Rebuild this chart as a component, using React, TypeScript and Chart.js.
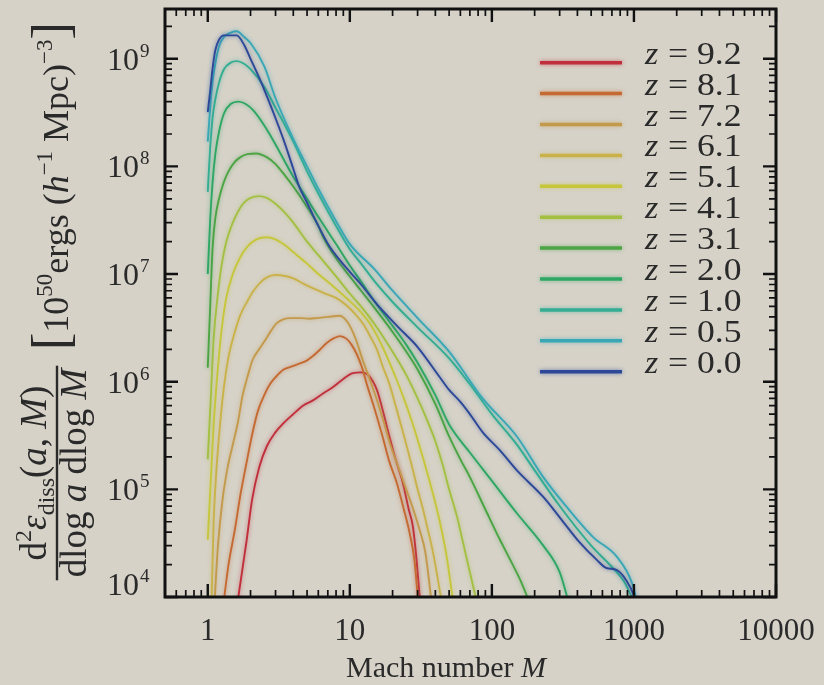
import React, { useEffect, useRef } from "react";
import { Chart, registerables } from "chart.js";

Chart.register(...registerables);

// Redshift of each curve, legend order (top to bottom)
const redshifts = ["9.2", "8.1", "7.2", "6.1", "5.1", "4.1", "3.1", "2.0", "1.0", "0.5", "0.0"];
const curveColors = [
  "#c0303c", "#c46a32", "#c39a4c", "#c9b24a", "#c6c63c", "#a4c043",
  "#4ca444", "#2fa764", "#34ad92", "#3aa7b5", "#2c4897",
];

// Shock Mach number samples and dissipated energy per log a per log M
const machZ92 = [1.6, 1.88, 2.05, 2.3, 2.6, 3.0, 3.4, 4.0, 4.7, 5.5, 6.4, 7.5, 8.9, 10.5, 12.0, 13.4, 15.5, 17, 19, 21, 23.6, 26, 27.8, 29.5, 31.5];
const dissZ92 = [8e3, 3.4e4, 8e4, 1.6e5, 2.5e5, 3.4e5, 4.1e5, 5.0e5, 6.0e5, 6.7e5, 7.7e5, 8.8e5, 1.05e6, 1.2e6, 1.22e6, 1.16e6, 8.4e5, 5.5e5, 3.1e5, 1.9e5, 1.15e5, 6.5e4, 4.5e4, 2.2e4, 8e3];

const machZ81 = [1.28, 1.4, 1.55, 1.7, 1.88, 2.05, 2.25, 2.5, 2.73, 3.0, 3.4, 4.0, 4.4, 5.0, 5.5, 6.2, 6.9, 7.8, 8.5, 9.5, 10.3, 11.2, 12.2, 13.2, 15, 17, 19, 21.4, 24, 26.4, 28.5, 30.5];
const dissZ81 = [8e3, 2e4, 4.2e4, 9e4, 1.8e5, 3.2e5, 5.3e5, 7.5e5, 9.4e5, 1.1e6, 1.29e6, 1.4e6, 1.47e6, 1.58e6, 1.73e6, 2.0e6, 2.3e6, 2.55e6, 2.65e6, 2.5e6, 2.2e6, 1.8e6, 1.35e6, 9.4e5, 5.5e5, 3.1e5, 1.8e5, 1.15e5, 6.5e4, 3.9e4, 2.2e4, 8e3];

const machZ72 = [1.11, 1.18, 1.27, 1.38, 1.5, 1.63, 1.76, 1.9, 2.07, 2.3, 2.52, 2.8, 3.06, 3.4, 3.78, 4.5, 5.2, 5.85, 7.0, 8.5, 9.3, 10, 11, 12.3, 14, 15.5, 17, 19.1, 22, 25, 28, 31, 34, 38];
const dissZ72 = [8e3, 3e4, 8e4, 1.6e5, 2.6e5, 4.2e5, 7.5e5, 1.1e6, 1.6e6, 2.0e6, 2.4e6, 3.0e6, 3.5e6, 3.8e6, 3.9e6, 3.9e6, 3.85e6, 3.9e6, 4.0e6, 4.1e6, 3.8e6, 3.3e6, 2.5e6, 1.6e6, 1.0e6, 6.8e5, 4.6e5, 2.7e5, 1.6e5, 9.9e4, 6.5e4, 4.2e4, 2.6e4, 8e3];

const machZ61 = [1.06, 1.1, 1.15, 1.22, 1.3, 1.4, 1.55, 1.7, 1.9, 2.1, 2.4, 2.7, 3.0, 3.5, 4.0, 5.0, 6.5, 8.0, 9.5, 11, 12.5, 14, 15.5, 17, 19, 21, 23, 25, 27.5, 30, 32.5, 35, 38.5, 41.5, 45];
const dissZ61 = [8e3, 5e4, 1.5e5, 4e5, 9e5, 1.7e6, 2.9e6, 4.2e6, 5.6e6, 7.0e6, 8.6e6, 9.5e6, 9.8e6, 9.6e6, 9.1e6, 7.8e6, 6.7e6, 6.0e6, 5.1e6, 4.2e6, 3.4e6, 2.6e6, 2.0e6, 1.4e6, 9.5e5, 6e5, 3.9e5, 2.6e5, 1.6e5, 1.0e5, 6.8e4, 4.5e4, 2.6e4, 1.5e4, 8e3];

const machZ51 = [1.0, 1.05, 1.1, 1.17, 1.25, 1.35, 1.5, 1.7, 1.9, 2.2, 2.6, 3.0, 3.5, 4.0, 5.0, 6.0, 7.0, 8.5, 10, 12, 14, 17, 21, 24.5, 27.8, 31, 34.7, 39, 43, 48, 54];
const dissZ51 = [3.4e4, 1.2e5, 4e5, 1.2e6, 3e6, 6e6, 1.0e7, 1.45e7, 1.8e7, 2.1e7, 2.2e7, 2.1e7, 1.85e7, 1.6e7, 1.25e7, 1.0e7, 8.5e6, 6.8e6, 5.6e6, 4.4e6, 3.4e6, 2.1e6, 1.1e6, 6.5e5, 4.0e5, 2.5e5, 1.5e5, 8.5e4, 5e4, 2.4e4, 8e3];

const machZ41 = [1.0, 1.05, 1.1, 1.17, 1.25, 1.35, 1.5, 1.65, 1.8, 2.0, 2.3, 2.6, 3.0, 3.5, 4.0, 5.0, 6.0, 8.0, 10, 12, 15, 20, 25, 30, 35, 40, 45, 50, 57, 62, 70, 80];
const dissZ41 = [1.9e5, 7e5, 2.5e6, 6e6, 1.2e7, 2e7, 3e7, 3.9e7, 4.6e7, 5.1e7, 5.3e7, 5.1e7, 4.5e7, 3.7e7, 3.0e7, 2.0e7, 1.5e7, 9.5e6, 6.6e6, 5.0e6, 3.4e6, 1.9e6, 1.15e6, 7e5, 4.4e5, 2.8e5, 1.7e5, 1.0e5, 5.5e4, 3.4e4, 1.7e4, 8e3];

const machZ31 = [1.0, 1.04, 1.08, 1.13, 1.2, 1.3, 1.4, 1.55, 1.7, 1.9, 2.2, 2.6, 3.0, 3.5, 4.0, 5.0, 6.0, 6.5, 8.0, 10, 12, 15, 20, 25, 30, 40, 50, 60, 70, 90, 114, 135, 160, 190];
const dissZ31 = [1.35e6, 5e6, 1.7e7, 3.3e7, 5e7, 7.2e7, 9e7, 1.1e8, 1.22e8, 1.3e8, 1.32e8, 1.22e8, 1.05e8, 8.2e7, 6.5e7, 4.2e7, 2.8e7, 2.2e7, 1.4e7, 9.5e6, 7e6, 4.8e6, 2.9e6, 1.9e6, 1.3e6, 6.2e5, 3.1e5, 1.9e5, 1.3e5, 6.5e4, 3.4e4, 2.2e4, 1.4e4, 8e3];

const machZ20 = [1.0, 1.04, 1.08, 1.13, 1.2, 1.3, 1.45, 1.65, 1.85, 2.1, 2.5, 3.0, 3.5, 4.0, 5.0, 6.0, 8.0, 10, 12, 15, 20, 25, 30, 40, 50, 70, 100, 150, 230, 300, 355];
const dissZ20 = [1.0e7, 3.2e7, 7e7, 1.3e8, 2.1e8, 3.1e8, 3.8e8, 4.0e8, 3.8e8, 3.3e8, 2.4e8, 1.6e8, 1.1e8, 8e7, 5e7, 3.4e7, 1.9e7, 1.2e7, 8.5e6, 5.5e6, 3.3e6, 2.2e6, 1.5e6, 7.5e5, 4e5, 2.2e5, 1.2e5, 6e4, 3.0e4, 1.7e4, 8e3];

const machZ10 = [1.0, 1.04, 1.08, 1.13, 1.2, 1.3, 1.45, 1.6, 1.8, 2.0, 2.5, 3.0, 3.5, 4.0, 5.0, 6.0, 8.0, 10, 12, 15, 20, 30, 50, 70, 100, 150, 200, 300, 500, 700, 850, 1000];
const dissZ10 = [5.8e7, 1.5e8, 2.8e8, 4.2e8, 6e8, 8e8, 9.2e8, 9.5e8, 9e8, 8e8, 5.5e8, 3.5e8, 2.4e8, 1.7e8, 9e7, 5.6e7, 2.8e7, 1.7e7, 1.25e7, 8.5e6, 5.5e6, 3.2e6, 1.65e6, 9.5e5, 5e5, 2.6e5, 1.5e5, 7e4, 3e4, 1.9e4, 1.4e4, 9e3];

const machZ05 = [1.0, 1.04, 1.08, 1.13, 1.2, 1.3, 1.45, 1.6, 1.8, 2.0, 2.5, 3.0, 4.0, 5.0, 6.0, 8.0, 10, 15, 20, 30, 50, 86, 150, 230, 335, 516, 760, 970, 1050];
const dissZ05 = [1.7e8, 3.5e8, 6e8, 9e8, 1.3e9, 1.6e9, 1.75e9, 1.8e9, 1.6e9, 1.4e9, 8.5e8, 4.3e8, 1.8e8, 1.0e8, 6.2e7, 3.1e7, 1.9e7, 1.1e7, 7e6, 3.9e6, 1.9e6, 7e5, 3.1e5, 1.3e5, 6.9e4, 3.6e4, 2.36e4, 1.35e4, 9e3];

const machZ00 = [1.0, 1.04, 1.08, 1.13, 1.2, 1.3, 1.45, 1.6, 1.8, 2.0, 2.32, 2.7, 3.0, 3.4, 4.0, 4.4, 5.0, 5.85, 7.2, 8.5, 10, 12, 16, 22, 30, 43, 50, 60, 70, 86, 114, 150, 230, 300, 400, 550, 640, 760, 940, 1040];
const dissZ00 = [3.2e8, 5e8, 8e8, 1.2e9, 1.5e9, 1.65e9, 1.65e9, 1.65e9, 1.35e9, 1.0e9, 6.5e8, 4e8, 2.8e8, 1.8e8, 9.5e7, 6.5e7, 4.6e7, 3.0e7, 1.8e7, 1.35e7, 1.05e7, 8e6, 5e6, 3.2e6, 2.1e6, 1.1e6, 8.4e5, 6.5e5, 5e5, 3.4e5, 2.3e5, 1.5e5, 8.5e4, 5.5e4, 3.4e4, 2.2e4, 1.86e4, 1.78e4, 1.24e4, 9e3];

const machSeries = [machZ92, machZ81, machZ72, machZ61, machZ51, machZ41, machZ31, machZ20, machZ10, machZ05, machZ00];
const dissSeries = [dissZ92, dissZ81, dissZ72, dissZ61, dissZ51, dissZ41, dissZ31, dissZ20, dissZ10, dissZ05, dissZ00];

// Axis ranges and labelled ticks
const machRange = [0.5, 10000];
const dissRange = [1e4, 2.9e9];
const xTickValues = [1, 10, 100, 1000, 10000];
const xTickLabels = ["1", "10", "100", "1000", "10000"];
const yTickExponents = [4, 5, 6, 7, 8, 9];

const PAPER = "#d6d2c8";
const INK = "#2a2a2a";
const SERIF = '"Liberation Serif", "Times New Roman", Times, serif';

type Run = { t: string; size: number; italic?: boolean; shift?: number };

function setFont(ctx: CanvasRenderingContext2D, size: number, italic = false) {
  ctx.font = `${italic ? "italic " : ""}${size}px ${SERIF}`;
}

function runsWidth(ctx: CanvasRenderingContext2D, runs: Run[]) {
  let w = 0;
  for (const r of runs) {
    setFont(ctx, r.size, r.italic);
    w += ctx.measureText(r.t).width;
  }
  return w;
}

function drawRuns(ctx: CanvasRenderingContext2D, runs: Run[], x: number, y: number) {
  ctx.textAlign = "left";
  ctx.textBaseline = "alphabetic";
  for (const r of runs) {
    setFont(ctx, r.size, r.italic);
    ctx.fillText(r.t, x, y + (r.shift ?? 0));
    x += ctx.measureText(r.t).width;
  }
}

// text stretched horizontally about its left edge
function fillWide(ctx: CanvasRenderingContext2D, text: string, x: number, y: number, sx: number) {
  ctx.save();
  ctx.translate(x, y);
  ctx.scale(sx, 1);
  ctx.textAlign = "left";
  ctx.fillText(text, 0, 0);
  ctx.restore();
}

function withAlpha(hex: string, a: number) {
  const n = parseInt(hex.slice(1), 16);
  return `rgba(${(n >> 16) & 255},${(n >> 8) & 255},${n & 255},${a})`;
}

const paperPlugin = {
  id: "paper",
  beforeDraw(chart: any) {
    const ctx = chart.ctx as CanvasRenderingContext2D;
    ctx.save();
    ctx.fillStyle = PAPER;
    ctx.fillRect(0, 0, chart.width, chart.height);
    ctx.restore();
  },
};

// soft halo around each curve
const glowPlugin = {
  id: "glow",
  beforeDatasetDraw(chart: any, args: any) {
    const ctx = chart.ctx as CanvasRenderingContext2D;
    const color = chart.data.datasets[args.index].borderColor as string;
    ctx.save();
    ctx.shadowColor = withAlpha(color, 0.6);
    ctx.shadowBlur = 4;
  },
  afterDatasetDraw(chart: any) {
    chart.ctx.restore();
  },
};

const framePlugin = {
  id: "frame",
  afterDatasetsDraw(chart: any) {
    const ctx = chart.ctx as CanvasRenderingContext2D;
    const { left, right, top, bottom } = chart.chartArea;
    const xs = chart.scales.x;
    const ys = chart.scales.y;
    ctx.save();

    // inward ticks on all four sides
    ctx.strokeStyle = "#111";
    for (let d = -1; d <= 4; d++) {
      for (let k = 1; k <= 9; k++) {
        const v = k * Math.pow(10, d);
        if (v < machRange[0] - 1e-9 || v > machRange[1] + 1e-9) continue;
        const px = xs.getPixelForValue(v);
        const len = k === 1 ? 13 : 7;
        ctx.lineWidth = k === 1 ? 2.4 : 1.7;
        ctx.beginPath();
        ctx.moveTo(px, bottom);
        ctx.lineTo(px, bottom - len);
        ctx.moveTo(px, top);
        ctx.lineTo(px, top + len);
        ctx.stroke();
      }
    }
    for (let d = 4; d <= 9; d++) {
      for (let k = 1; k <= 9; k++) {
        const v = k * Math.pow(10, d);
        if (v < dissRange[0] - 1 || v > dissRange[1]) continue;
        const py = ys.getPixelForValue(v);
        const len = k === 1 ? 13 : 7;
        ctx.lineWidth = k === 1 ? 2.4 : 1.7;
        ctx.beginPath();
        ctx.moveTo(left, py);
        ctx.lineTo(left + len, py);
        ctx.moveTo(right, py);
        ctx.lineTo(right - len, py);
        ctx.stroke();
      }
    }
    ctx.lineWidth = 3;
    ctx.strokeRect(left, top, right - left, bottom - top);

    ctx.fillStyle = INK;

    // x tick labels
    setFont(ctx, 31);
    ctx.textAlign = "center";
    ctx.textBaseline = "alphabetic";
    xTickValues.forEach((v, i) => {
      ctx.fillText(xTickLabels[i], xs.getPixelForValue(v), 640);
    });

    // y tick labels: 10^n
    yTickExponents.forEach((e) => {
      const py = ys.getPixelForValue(Math.pow(10, e));
      const cy = Math.min(py, bottom - 13);
      setFont(ctx, 32);
      ctx.textAlign = "right";
      ctx.fillText("10", left - 26, cy + 11);
      setFont(ctx, 19);
      ctx.textAlign = "left";
      ctx.fillText(String(e), left - 25, cy - 2);
    });

    // x axis title
    const xTitle: Run[] = [
      { t: "Mach number ", size: 30 },
      { t: "M", size: 30, italic: true },
    ];
    const xtw = runsWidth(ctx, xTitle);
    drawRuns(ctx, xTitle, 446 - xtw / 2, 677);

    // y axis title, rotated
    const numer: Run[] = [
      { t: "d", size: 37 },
      { t: "2", size: 24, shift: -15 },
      { t: "ε", size: 37, italic: true },
      { t: "diss", size: 24, shift: 8 },
      { t: "(", size: 37 },
      { t: "a", size: 37, italic: true },
      { t: ", ", size: 37 },
      { t: "M", size: 37, italic: true },
      { t: ")", size: 37 },
    ];
    const denom: Run[] = [
      { t: "dlog ", size: 37 },
      { t: "a", size: 37, italic: true },
      { t: " dlog ", size: 37 },
      { t: "M", size: 37, italic: true },
    ];
    const units: Run[] = [
      { t: "[", size: 52 },
      { t: "10", size: 36 },
      { t: "50", size: 23, shift: -16 },
      { t: "ergs (", size: 36 },
      { t: "h", size: 36, italic: true },
      { t: "−1", size: 23, shift: -16 },
      { t: " Mpc)", size: 36 },
      { t: "−3", size: 23, shift: -16 },
      { t: "]", size: 52 },
    ];
    const fracCenter = 473;
    const nw = runsWidth(ctx, numer);
    const dw = runsWidth(ctx, denom);
    const bar = Math.max(nw, dw) + 6;

    const rotated = (x: number, y: number, fn: () => void) => {
      ctx.save();
      ctx.translate(x, y);
      ctx.rotate(-Math.PI / 2);
      fn();
      ctx.restore();
    };
    rotated(46, fracCenter + nw / 2, () => drawRuns(ctx, numer, 0, 0));
    rotated(86, fracCenter + dw / 2, () => drawRuns(ctx, denom, 0, 0));
    ctx.strokeStyle = INK;
    ctx.lineWidth = 2.4;
    ctx.beginPath();
    ctx.moveTo(57, fracCenter - bar / 2);
    ctx.lineTo(57, fracCenter + bar / 2);
    ctx.stroke();
    rotated(68, 350, () => drawRuns(ctx, units, 0, 0));

    // legend
    redshifts.forEach((z, i) => {
      const y = 62.7 + i * 30.9;
      ctx.save();
      ctx.strokeStyle = curveColors[i];
      ctx.shadowColor = withAlpha(curveColors[i], 0.6);
      ctx.shadowBlur = 4;
      ctx.lineWidth = 3.5;
      ctx.beginPath();
      ctx.moveTo(540, y);
      ctx.lineTo(622, y);
      ctx.stroke();
      ctx.restore();
      ctx.fillStyle = INK;
      setFont(ctx, 31, true);
      fillWide(ctx, "z", 645, y + 1, 1.1);
      setFont(ctx, 31);
      fillWide(ctx, "=", 668, y + 1, 1.15);
      fillWide(ctx, z, 697, y + 1, 1.15);
    });

    ctx.restore();
  },
};

export default function App() {
  const canvasRef = useRef<HTMLCanvasElement | null>(null);

  useEffect(() => {
    const canvas = canvasRef.current;
    if (!canvas) return;
    const datasets = redshifts.map((z, i) => ({
      label: `z = ${z}`,
      data: machSeries[i].map((m, j) => ({ x: m, y: dissSeries[i][j] })),
      borderColor: curveColors[i],
      backgroundColor: curveColors[i],
      borderWidth: 1.9,
      pointRadius: 0,
      fill: false,
      cubicInterpolationMode: "monotone" as const,
      clip: 0,
      order: redshifts.length - i,
    }));
    const chart = new Chart(canvas, {
      type: "line",
      data: { datasets },
      options: {
        animation: false,
        responsive: false,
        maintainAspectRatio: false,
        events: [],
        parsing: false,
        layout: { padding: { left: 165, right: 48, top: 9, bottom: 88 } },
        scales: {
          x: { type: "logarithmic", min: machRange[0], max: machRange[1], display: false },
          y: { type: "logarithmic", min: dissRange[0], max: dissRange[1], display: false },
        },
        plugins: {
          legend: { display: false },
          tooltip: { enabled: false },
        },
      },
      plugins: [paperPlugin, glowPlugin, framePlugin],
    } as any);
    return () => chart.destroy();
  }, []);

  return (
    <div style={{ position: "fixed", left: 0, top: 0, width: 824, height: 685, background: PAPER }}>
      <canvas ref={canvasRef} width={824} height={685} style={{ display: "block", width: 824, height: 685 }} />
    </div>
  );
}
